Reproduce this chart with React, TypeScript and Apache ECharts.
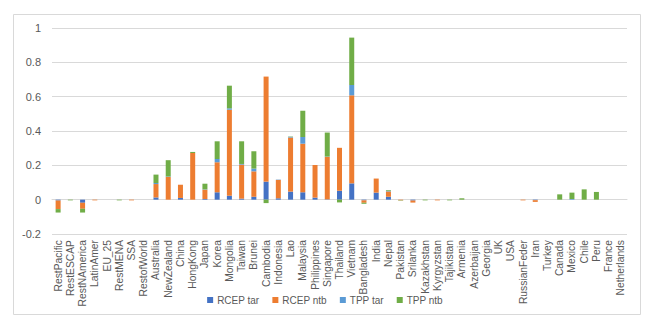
import React, { useEffect, useRef } from "react";
import * as echarts from "echarts";

const categories = [
  "RestPacific", "RestESCAP", "RestNAmerica", "LatinAmer", "EU_25", "RestMENA", "SSA", "RestofWorld",
  "Australia", "NewZealand", "China", "HongKong", "Japan", "Korea", "Mongolia", "Taiwan", "Brunei",
  "Cambodia", "Indonesia", "Lao", "Malaysia", "Philippines", "Singapore", "Thailand", "Vietnam",
  "Bangladesh", "India", "Nepal", "Pakistan", "Srilanka", "Kazakhstan", "Kyrgyzstan", "Tajikistan",
  "Armenia", "Azerbaijan", "Georgia", "UK", "USA", "RussianFeder", "Iran", "Turkey", "Canada",
  "Mexico", "Chile", "Peru", "France", "Netherlands",
];

const rcepTar = [
  -0.005, 0, -0.018, 0, 0, 0, 0, 0,
  0.013, 0, 0.01, 0, 0.004, 0.043, 0.023, 0.006, 0.017,
  0.105, 0.008, 0.047, 0.043, 0.012, 0.002, 0.052, 0.095,
  -0.004, 0.041, 0.017, 0, -0.005, 0, 0, 0,
  0, 0, 0, 0, 0, 0, -0.003, 0, 0,
  0, 0, 0, 0, 0,
];

const rcepNtb = [
  -0.05, 0, -0.035, -0.004, 0, 0, -0.004, 0,
  0.078, 0.132, 0.077, 0.272, 0.054, 0.175, 0.501, 0.198, 0.148,
  0.612, 0.107, 0.315, 0.283, 0.19, 0.247, 0.25, 0.513,
  -0.014, 0.082, 0.031, -0.004, -0.012, 0, -0.004, 0,
  0, 0, 0, 0, 0, -0.004, -0.01, 0, 0,
  0, 0, 0, 0, 0,
];

const tppTar = [
  0, 0, 0, 0, 0, 0, 0, 0,
  0.006, 0.003, 0, 0, 0.002, 0.019, 0.008, 0.004, 0.016,
  0, 0.002, 0.004, 0.039, 0, 0.002, 0, 0.06,
  0, 0, 0.004, 0, 0, 0, 0, 0,
  0, 0, 0, 0, 0, 0, 0, 0, 0,
  0.004, 0, 0, 0, 0,
];

const tppNtb = [
  -0.02, -0.004, -0.022, 0, 0, -0.004, 0, 0,
  0.049, 0.095, 0, 0.006, 0.033, 0.103, 0.132, 0.132, 0.101,
  -0.02, 0, 0.002, 0.153, 0, 0.14, -0.016, 0.276,
  -0.006, 0, 0.004, -0.002, 0, -0.004, 0, -0.004,
  0.008, 0, 0, 0, 0, 0, 0, 0, 0.031,
  0.037, 0.06, 0.045, 0, 0,
];

const seriesNames = ["RCEP tar", "RCEP ntb", "TPP tar", "TPP ntb"];
const seriesColors = ["#4472C4", "#ED7D31", "#5B9BD5", "#70AD47"];
const seriesData = [rcepTar, rcepNtb, tppTar, tppNtb];

const FONT = "'Liberation Sans', Arial, sans-serif";

export default function App() {
  const ref = useRef<HTMLDivElement>(null);
  useEffect(() => {
    if (!ref.current) return;
    const chart = echarts.init(ref.current, undefined, { renderer: "svg" });
    chart.setOption({
      animation: false,
      backgroundColor: "#ffffff",
      graphic: [
        {
          type: "rect",
          shape: { x: 13.5, y: 14.5, width: 627, height: 300 },
          style: { fill: "none", stroke: "#d9d9d9", lineWidth: 1 },
          silent: true,
        },
      ],
      grid: { left: 52, right: 23, top: 28, bottom: 89, containLabel: false },
      legend: {
        data: seriesNames,
        top: 290,
        left: "center",
        icon: "rect",
        itemWidth: 6,
        itemHeight: 6,
        itemGap: 13,
        textStyle: { color: "#595959", fontSize: 10, fontFamily: FONT, padding: [0, 0, 0, -1] },
      },
      xAxis: {
        type: "category",
        data: categories,
        axisLine: { onZero: true, lineStyle: { color: "#d9d9d9" } },
        axisTick: { show: false },
        axisLabel: {
          rotate: 90,
          interval: 0,
          color: "#595959",
          fontSize: 10.3,
          fontFamily: FONT,
          margin: 6,
        },
      },
      yAxis: {
        type: "value",
        min: -0.2,
        max: 1,
        interval: 0.2,
        axisLine: { show: false },
        axisTick: { show: false },
        splitLine: { lineStyle: { color: "#d9d9d9", width: 1 } },
        axisLabel: {
          color: "#595959",
          fontSize: 11,
          fontFamily: FONT,
          margin: 11,
          formatter: (v: number) => String(Math.round(v * 10) / 10),
        },
      },
      series: seriesNames.map((name, i) => ({
        name,
        type: "bar",
        stack: "total",
        barWidth: 5,
        data: seriesData[i],
        itemStyle: { color: seriesColors[i] },
      })),
    });
    return () => chart.dispose();
  }, []);
  return (
    <div
      ref={ref}
      style={{ position: "fixed", left: 0, top: 0, width: 650, height: 323 }}
    />
  );
}
